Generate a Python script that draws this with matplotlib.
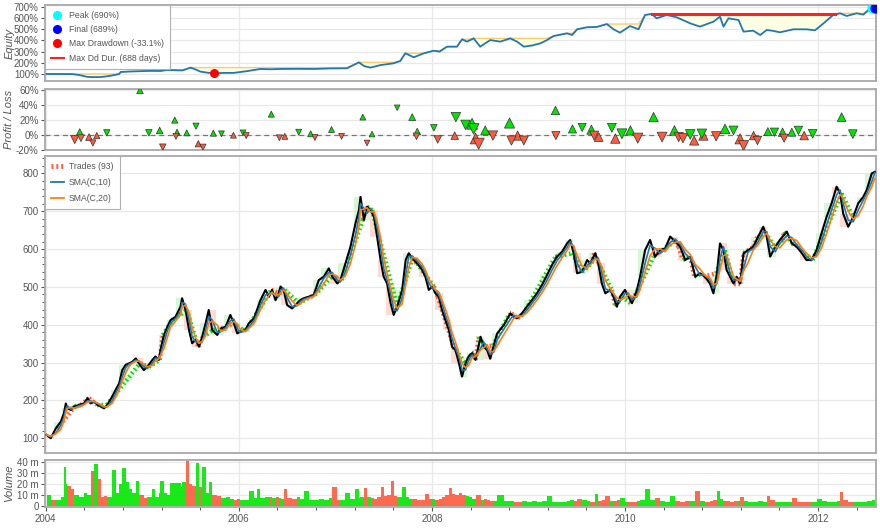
import numpy as np
import pandas as pd
import matplotlib
matplotlib.use('Agg')
import matplotlib.pyplot as plt
from matplotlib.lines import Line2D
from matplotlib.ticker import FixedLocator, MultipleLocator, FuncFormatter

plt.rcParams['font.family'] = ['Liberation Sans', 'DejaVu Sans']

# price trace (bar index, close); samples are roughly 10 bars apart
price_bars = [2, 13, 26, 39, 47, 52, 56, 65, 73, 86, 99, 108, 116, 125, 134, 142, 151, 159, 172, 181,
              190, 198, 207, 216, 224, 233, 241, 254, 263, 276, 284, 293, 297, 306, 315, 323, 336, 349, 353, 362,
              371, 379, 388, 397, 405, 414, 422, 431, 444, 453, 466, 478, 487, 496, 504, 517, 526, 539, 547, 556,
              569, 578, 586, 595, 603, 608, 616, 625, 638, 651, 659,
              668, 681, 694, 707, 720, 733, 742, 755, 763, 776, 789, 802, 811, 815, 824, 832, 841, 850, 858, 867,
              875, 884, 893, 901, 910, 923, 932, 940, 949, 962, 975, 983, 992, 1001, 1009, 1018, 1026, 1035, 1044, 1052,
              1061, 1070, 1078, 1087, 1095, 1104, 1113, 1126, 1134, 1143, 1151, 1160, 1169, 1186, 1203, 1212, 1220, 1233, 1246, 1259,
              1272, 1285, 1298, 1311, 1324, 1337, 1350, 1358, 1367, 1376, 1389, 1402,
              1410, 1423, 1431, 1440, 1449, 1462, 1470, 1479, 1487, 1500, 1509, 1518, 1531, 1539, 1552, 1565, 1578, 1591, 1604, 1617,
              1630, 1643, 1656, 1669, 1682, 1694, 1707, 1720, 1729, 1738, 1746, 1755, 1763, 1772, 1781, 1789, 1798, 1807, 1819, 1832,
              1845, 1858, 1867, 1876, 1889, 1901, 1919, 1932, 1945, 1958, 1970, 1983, 1996, 2009, 2022, 2035, 2048, 2057, 2065, 2078,
              2091, 2104, 2117, 2126, 2139, 2147]
price_close = [109, 100, 126, 144, 166, 192, 179, 175, 184, 188, 192, 206, 192, 197, 188, 184, 179, 188, 210, 228,
               245, 280, 294, 298, 302, 311, 298, 280, 289, 307, 316, 307, 333, 373, 395, 412, 421, 448, 470, 439,
               386, 351, 360, 342, 368, 404, 439, 386, 373, 390, 395, 426, 404, 377, 382, 386, 404, 417, 439, 465,
               492, 474, 492, 465, 483, 501, 492, 452, 443, 457, 465,
               470, 474, 479, 518, 527, 549, 527, 509, 518, 562, 606, 668, 703, 738, 677, 712, 703, 685, 633, 571,
               527, 509, 457, 426, 448, 492, 571, 589, 575, 562, 544, 527, 492, 501, 483, 474, 439, 412, 386, 342,
               333, 298, 263, 298, 316, 325, 307, 368, 342, 333, 310, 345, 377, 399, 430, 421, 417, 430, 448, 465,
               483, 505, 531, 558, 580, 593, 615, 624, 589, 536, 540, 571,
               562, 589, 562, 509, 483, 492, 474, 448, 474, 492, 474, 457, 492, 527, 597, 624, 580, 597, 602, 633,
               620, 606, 571, 580, 527, 536, 527, 509, 483, 536, 615, 597, 545, 527, 509, 527, 509, 589, 597, 606,
               633, 659, 633, 580, 606, 624, 646, 615, 606, 589, 571, 571, 597, 642, 685, 721, 765, 747, 694, 659,
               685, 721, 738, 756, 800, 804]
volume_m = [10, 5, 5, 8, 36, 20, 18, 15, 10, 8, 12, 10, 32, 38, 25, 8, 9, 8, 33, 12,
            20, 35, 22, 15, 12, 23, 10, 7, 8, 15, 8, 12, 23, 12, 10, 21, 21, 17, 22, 41,
            20, 18, 39, 17, 36, 12, 22, 10, 9, 7, 8, 6, 5, 6, 5, 5, 14, 7, 15, 7,
            8, 8, 7, 8, 7, 6, 15, 7, 6, 8, 6,
            14, 5, 5, 6, 5, 7, 17, 5, 5, 12, 6, 15, 7, 8, 16, 8, 7, 6, 8, 17,
            9, 10, 23, 9, 8, 17, 8, 6, 6, 5, 5, 11, 6, 6, 5, 6, 8, 10, 16, 11,
            10, 12, 10, 9, 8, 6, 10, 5, 6, 5, 4, 4, 10, 4, 4, 3, 3, 4, 3, 4,
            3, 4, 9, 3, 3, 3, 4, 5, 4, 6, 5, 4,
            3, 11, 4, 5, 9, 4, 4, 5, 7, 3, 3, 3, 4, 5, 15, 5, 7, 4, 3, 9,
            4, 3, 4, 4, 14, 4, 3, 4, 5, 14, 6, 4, 4, 3, 4, 4, 8, 4, 3, 3,
            4, 3, 9, 5, 3, 3, 3, 7, 3, 3, 3, 3, 6, 4, 3, 3, 4, 13, 5, 3,
            3, 3, 3, 4, 5, 3]

# equity curve (percent of initial capital)
equity_bars = [0, 20, 69, 88, 108, 125, 142, 160, 177, 190, 194, 215, 244, 270, 297, 315, 340, 354, 375, 388,
               401, 418, 435, 460, 487, 520, 556, 580, 608, 650, 694, 740, 780, 811, 825, 841, 867, 900, 918, 931,
               953, 979, 1005, 1020, 1039, 1065, 1078, 1091, 1108, 1125, 1151, 1177, 1203, 1220, 1238, 1260, 1281, 1298, 1315, 1350,
               1363, 1376, 1401, 1427, 1453, 1470, 1487, 1513, 1535, 1552, 1569, 1582, 1608, 1634, 1669, 1694, 1729, 1746, 1755, 1768,
               1794, 1807, 1832, 1850, 1867, 1884, 1901, 1936, 1970, 1992, 2014, 2039, 2057, 2074, 2100, 2117, 2134, 2140, 2147]
equity_pct = [100, 100, 99, 90, 74, 72, 73, 80, 90, 100, 118, 122, 125, 128, 127, 136, 133, 132, 157, 140,
              121, 112, 106, 110, 110, 125, 145, 142, 145, 146, 145, 150, 151, 204, 170, 157, 180, 195, 216, 285,
              249, 285, 308, 300, 344, 344, 410, 389, 418, 344, 403, 389, 418, 390, 344, 355, 374, 403, 439, 463,
              448, 499, 517, 520, 546, 500, 469, 528, 499, 627, 636, 597, 627, 606, 552, 523, 567, 612, 523, 597,
              582, 478, 487, 448, 493, 485, 472, 499, 499, 490, 552, 627, 642, 618, 642, 630, 680, 690, 689]

# trades: exit bar, P/L in percent, side (1 long, -1 short)
first_entry_bar = 30
trade_exit = [75, 88, 91, 112, 122, 132, 158, 244, 267, 295, 303, 334, 337, 340, 365, 389, 395, 407, 434, 455,
              486, 511, 519, 584, 605, 619, 655, 686, 697, 740, 766, 821, 832, 845, 910, 949, 960, 962, 1005, 1015,
              1059, 1062, 1087, 1104, 1108, 1113, 1121, 1138, 1158, 1201, 1206, 1222, 1238, 1320, 1321, 1364, 1389, 1413, 1420, 1432,
              1466, 1475, 1492, 1514, 1533, 1574, 1596, 1628, 1639, 1650, 1669, 1679, 1699, 1703, 1736, 1759, 1781, 1798, 1807, 1833,
              1843, 1870, 1887, 1908, 1912, 1932, 1949, 1964, 1986, 2061, 2090]
trade_pl = [-6.3, 3.6, -4.5, -3, -11, -1, 2.7, 60, 2.7, 5.9, -16.7, 20, -2, 3.6, 2.7, 11.7, -12, -16.7, 2.3, 1.4,
            -0.5, 2.7, -1, 28, -4, -2, 3.6, 1.4, -3.6, 7.2, -2, 24, -11, 1, 36.6, 24, -2, 4.5, 9.5, -6.3,
            -1, 24, 13.5, 15, 8, -5, -12, 6, -1, 16, -7.7, -1, -7.7, 33, -1, 8, 10, 7, -1, -3,
            9.5, -5, 1.4, 6, -4.5, 24, -3, 6, -3, -4.5, 0.5, -7.7, 1.4, -1, -2, 8, 6, -5.4, -14.5, -1,
            -7.7, 4.5, 3.6, 3.6, -4.5, 3.6, 6, -1, 1.4, 24, 1]
trade_side = [-1, 1, -1, 1, -1, 1, -1, 1, -1, 1, -1, 1, -1, 1, 1, -1, 1, -1, 1, -1,
              1, -1, -1, 1, -1, 1, -1, 1, -1, 1, -1, 1, -1, 1, -1, 1, -1, 1, -1, -1,
              1, -1, -1, 1, -1, 1, -1, 1, -1, 1, -1, 1, -1, 1, -1, 1, -1, 1, -1, 1,
              -1, 1, -1, 1, -1, 1, -1, 1, -1, -1, -1, 1, -1, 1, -1, 1, -1, 1, -1, 1,
              -1, 1, -1, 1, -1, 1, -1, 1, -1, 1, -1]

year_ticks = [0, 500, 1000, 1500, 2000]
year_labels = ['2004', '2006', '2008', '2010', '2012']

BULL = '#00e600'
BEAR = '#ff5a3c'
GRAY = '#555555'


def main():
    bars = np.array(price_bars)
    close = pd.Series(price_close, dtype=float)
    vol = np.array(volume_m, dtype=float)
    eq_b = np.array(equity_bars)
    eq = np.array(equity_pct) / 100.0

    def at(xs, ys, b):
        # nearest read-off sample, no interpolation
        return np.asarray(ys)[np.abs(np.asarray(xs)[:, None] - np.asarray(b)[None, :]).argmin(axis=0)]

    W, H = 880, 529
    fig = plt.figure(figsize=(W / 100, H / 100), dpi=100)

    def panel(top, bottom):
        return fig.add_axes([45 / W, 1 - bottom / H, 831 / W, (bottom - top) / H])

    ax_eq = panel(5, 81)
    ax_pl = panel(89, 150)
    ax_px = panel(156, 453)
    ax_vol = panel(460, 507)

    def legend(ax, handles, labels, spacing):
        leg = ax.legend(handles, labels, loc='upper left', fontsize=6.2, labelspacing=spacing,
                        borderaxespad=0, borderpad=0.7, handlelength=1.5, handletextpad=0.6,
                        fancybox=False, edgecolor='#b0b0b0', framealpha=1)
        leg.get_frame().set_linewidth(0.8)
        for t in leg.get_texts():
            t.set_color(GRAY)

    for ax in (ax_eq, ax_pl, ax_px, ax_vol):
        ax.set_xlim(-2, 2150)
        ax.xaxis.set_major_locator(FixedLocator(year_ticks))
        ax.grid(True, color='#e8e8e8', lw=0.9)
        ax.set_axisbelow(True)
        for s in ax.spines.values():
            s.set_color('#a8a8a8')
            s.set_linewidth(1.3)
        ax.tick_params(axis='y', direction='out', length=3, width=0.8, pad=1.5, colors=GRAY, labelsize=7)
        ax.tick_params(axis='x', length=0, labelbottom=False)

    # ---- equity
    peak = np.maximum.accumulate(eq)
    ax_eq.fill_between(eq_b, eq, peak, color='#ffffe4', lw=0)
    ax_eq.plot(eq_b, peak, color='#ffcb66', lw=1)
    ax_eq.plot(eq_b, eq, color='#1f77b4', lw=1.3)
    dd_i = np.argmin(eq / peak)
    ax_eq.plot([1569, 2044], [6.36, 6.36], color='#ff2020', lw=2.2)
    ax_eq.scatter([eq_b[dd_i]], [eq[dd_i]], s=30, color='red', zorder=5)
    ax_eq.scatter([eq_b[-2]], [eq[-2]], s=40, color='cyan', zorder=5)
    ax_eq.scatter([eq_b[-1]], [eq[-1]], s=40, color='blue', zorder=6)
    ax_eq.set_ylim(0.375, 7.16)
    ax_eq.yaxis.set_major_locator(MultipleLocator(1))
    ax_eq.yaxis.set_major_formatter(FuncFormatter(lambda v, p: f'{v:.0%}'))
    ax_eq.set_ylabel('Equity', fontstyle='italic', fontsize=8, color=GRAY)
    ax_eq.yaxis.set_label_coords(-0.037, 0.5)
    legend(ax_eq,
           [Line2D([], [], marker='o', ls='', color='cyan', ms=5.5),
            Line2D([], [], marker='o', ls='', color='blue', ms=5.5),
            Line2D([], [], marker='o', ls='', color='red', ms=5.5),
            Line2D([], [], color='#ff2020', lw=1.5)],
           ['Peak (690%)', 'Final (689%)', 'Max Drawdown (-33.1%)', 'Max Dd Dur. (688 days)'], 0.6)

    # ---- profit / loss
    exits = np.array(trade_exit)
    entries = np.concatenate([[first_entry_bar], exits[:-1]])
    pl = np.array(trade_pl) / 100.0
    side = np.array(trade_side)
    shares = at(eq_b, eq, entries) / at(bars, close.values, entries)
    msize = np.interp(shares, (shares.min(), shares.max()), (4.0, 8.0)) ** 2
    colors = np.where(pl > 0, BULL, BEAR)
    ax_pl.axhline(0, color='#777777', lw=0.9, dashes=(4, 3))
    for marker, s in (('^', 1), ('v', -1)):
        m = side == s
        ax_pl.scatter(exits[m], pl[m], s=msize[m], marker=marker, c=colors[m],
                      edgecolors='#333333', linewidths=0.5, zorder=3)
    ax_pl.set_ylim(-0.205, 0.62)
    ax_pl.yaxis.set_major_locator(MultipleLocator(0.2))
    ax_pl.yaxis.set_major_formatter(FuncFormatter(lambda v, p: f'{v:.0%}'))
    ax_pl.set_ylabel('Profit / Loss', fontstyle='italic', fontsize=8, color=GRAY)
    ax_pl.yaxis.set_label_coords(-0.037, 0.5)

    # ---- price
    df = pd.DataFrame({'bar': bars, 'close': close})
    month = df.groupby(bars // 21)['close'].agg(['first', 'last'])
    up = month['last'] >= month['first']
    ax_px.bar(month.index * 21, (month['last'] - month['first']).abs(),
              bottom=month[['first', 'last']].min(axis=1), width=21, align='edge',
              color=np.where(up, '#d2f7d2', '#fdd8cf'), alpha=0.9, lw=0, zorder=1)
    p_in = at(bars, close.values, entries)
    p_out = at(bars, close.values, exits)
    for x0, x1, y0, y1, c in zip(entries, exits, p_in, p_out, colors):
        ax_px.plot([x0, x1], [y0, y1], color=c, lw=3.2, ls=(0, (0.4, 0.6)),
                   solid_capstyle='butt', zorder=2)
    ax_px.plot(bars, close, color='black', lw=1.5, zorder=3)
    sma10 = close.rolling(2, min_periods=1).mean()
    sma20 = close.rolling(3, min_periods=1).mean()
    ax_px.plot(bars, sma10, color='#1f77b4', lw=1.2, zorder=4)
    ax_px.plot(bars, sma20, color='#ff7f0e', lw=1.2, zorder=4)
    ax_px.set_ylim(61, 846)
    ax_px.yaxis.set_major_locator(MultipleLocator(100))
    ax_px.yaxis.set_minor_locator(MultipleLocator(20))
    ax_px.tick_params(axis='y', which='minor', direction='out', length=2, width=0.7, colors=GRAY)
    legend(ax_px,
           [Line2D([], [], color=BEAR, lw=3.5, ls=(0, (0.4, 0.6))),
            Line2D([], [], color='#1f77b4', lw=1.3),
            Line2D([], [], color='#ff7f0e', lw=1.3)],
           ['Trades (93)', 'SMA(C,10)', 'SMA(C,20)'], 0.8)

    # ---- volume
    widths = np.append(np.diff(bars), 8)
    vcol = np.where(close.diff().fillna(0).values >= 0, BULL, BEAR)
    ax_vol.bar(bars, vol, width=widths, align='edge', color=vcol, lw=0, alpha=0.9)
    ax_vol.set_ylim(-1.2, 42.1)
    ax_vol.yaxis.set_major_locator(MultipleLocator(10))
    ax_vol.yaxis.set_major_formatter(FuncFormatter(lambda v, p: '0' if v == 0 else f'{v:.0f} m'))
    ax_vol.set_ylabel('Volume', fontstyle='italic', fontsize=8, color=GRAY)
    ax_vol.yaxis.set_label_coords(-0.037, 0.5)
    ax_vol.xaxis.set_minor_locator(MultipleLocator(100))
    ax_vol.set_xticklabels(year_labels)
    ax_vol.tick_params(axis='x', which='major', direction='out', length=3, width=0.8,
                       colors=GRAY, labelsize=7, labelbottom=True, pad=2)
    ax_vol.tick_params(axis='x', which='minor', direction='out', length=2, width=0.7, colors=GRAY)

    fig.savefig('out.png', dpi=100)


if __name__ == '__main__':
    main()
